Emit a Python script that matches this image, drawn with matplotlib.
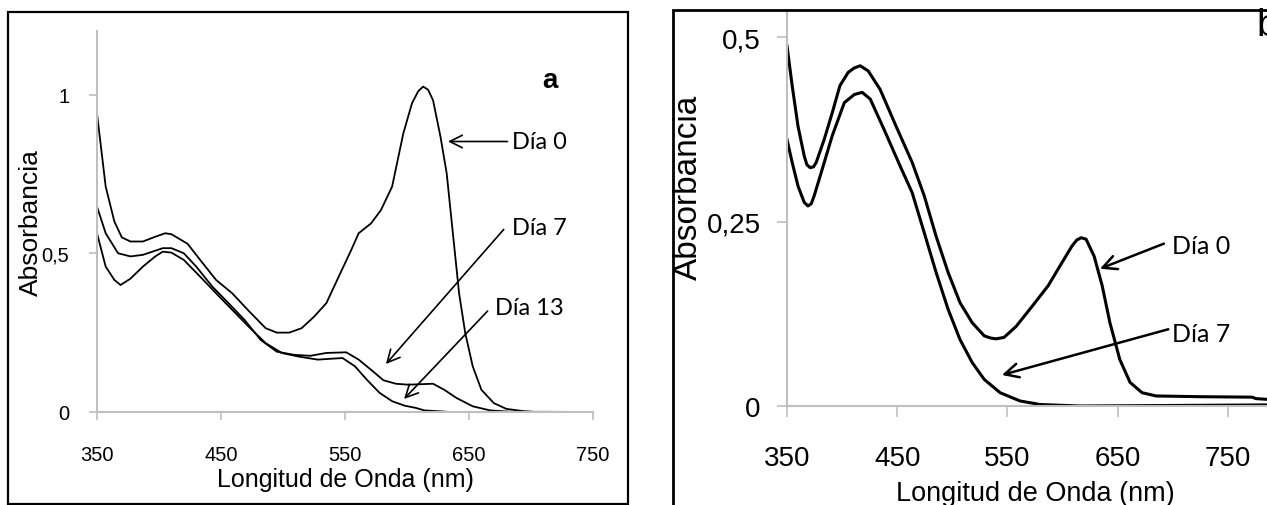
import matplotlib
matplotlib.use('Agg')
import matplotlib.pyplot as plt
from matplotlib.patches import Rectangle

# panel a: wavelength (nm) and absorbance
wl_a0 = [350, 357, 364, 370, 377, 387, 397, 405, 410, 423, 433, 446, 459, 472, 486, 495, 505, 515, 525, 535, 545,
         555, 561, 571, 579, 588, 597, 604, 609, 613, 617, 621, 627, 632, 637, 642, 647, 653, 660, 670, 680, 693,
         703, 750]
abs_a0 = [0.94, 0.71, 0.60, 0.55, 0.537, 0.537, 0.552, 0.563, 0.56, 0.53, 0.48, 0.416, 0.374, 0.32, 0.264, 0.25,
          0.25, 0.264, 0.30, 0.343, 0.427, 0.51, 0.563, 0.594, 0.636, 0.71, 0.877, 0.972, 1.01, 1.025, 1.015, 0.982,
          0.867, 0.752, 0.563, 0.374, 0.248, 0.144, 0.07, 0.028, 0.01, 0.003, 0.0, 0.0]
wl_a7 = [350, 357, 367, 377, 387, 397, 403, 410, 420, 430, 443, 456, 469, 482, 495, 509, 522, 535, 551, 561, 571,
         581, 591, 601, 621, 630, 640, 653, 667, 683, 750]
abs_a7 = [0.647, 0.563, 0.50, 0.49, 0.495, 0.508, 0.516, 0.516, 0.50, 0.458, 0.395, 0.343, 0.29, 0.227, 0.19, 0.18,
          0.177, 0.186, 0.188, 0.165, 0.133, 0.10, 0.089, 0.086, 0.089, 0.07, 0.044, 0.018, 0.005, 0.001, 0.0]
wl_a13 = [350, 357, 364, 369, 377, 387, 397, 403, 410, 420, 433, 446, 459, 472, 486, 499, 512, 528, 548, 558, 568,
          578, 588, 598, 607, 614, 627, 634, 750]
abs_a13 = [0.563, 0.458, 0.416, 0.40, 0.42, 0.458, 0.49, 0.505, 0.502, 0.479, 0.427, 0.374, 0.322, 0.27, 0.217, 0.186,
           0.175, 0.165, 0.17, 0.144, 0.10, 0.06, 0.034, 0.02, 0.013, 0.005, 0.002, 0.0, 0.0]

# panel b
wl_b0 = [350, 354.7, 360, 365.6, 368, 371, 374, 376.5, 383.7, 391, 398, 405.5, 411, 416.4, 423.7, 434.5, 449, 463.6,
         474.5, 485.3, 496.2, 507, 518, 529, 535, 539.8, 547, 558, 572.4, 587, 597.8, 608.7, 613, 617, 621.4, 628.7,
         636, 643, 652, 661.3, 672.2, 685, 725, 772, 775.6, 785.8, 850]
abs_b0 = [0.488, 0.434, 0.379, 0.339, 0.327, 0.323, 0.324, 0.330, 0.361, 0.397, 0.434, 0.452, 0.458, 0.461, 0.454,
          0.429, 0.379, 0.330, 0.285, 0.230, 0.181, 0.140, 0.113, 0.095, 0.092, 0.091, 0.093, 0.108, 0.135, 0.163,
          0.19, 0.217, 0.225, 0.228, 0.226, 0.203, 0.163, 0.113, 0.063, 0.032, 0.018, 0.0136, 0.0126, 0.012, 0.01,
          0.009, 0.009]
wl_b7 = [350, 354.7, 360, 365.6, 369, 372, 374.7, 382, 391, 402, 411, 418.2, 425.5, 438, 452.7, 463.6, 474.5, 485.3,
         496.2, 507, 518, 529, 543.4, 561.5, 579.7, 597.8, 616, 850]
abs_b7 = [0.361, 0.33, 0.298, 0.276, 0.271, 0.274, 0.285, 0.321, 0.366, 0.411, 0.422, 0.425, 0.416, 0.375, 0.325,
          0.289, 0.235, 0.181, 0.131, 0.09, 0.059, 0.036, 0.018, 0.0068, 0.002, 0.001, 0.0, 0.002]

xticks = [350, 450, 550, 650, 750]
yticks_a = [0, 0.5, 1]
yticks_b = [0, 0.25, 0.5]
yticklabels_a = ['0', '0,5', '1']
yticklabels_b = ['0', '0,25', '0,5']

plt.rcParams['font.family'] = ['Liberation Sans', 'DejaVu Sans']
gray = '#bfbfbf'
label_font = ['Lato', 'DejaVu Sans']

fig = plt.figure(figsize=(12.67, 5.06), dpi=100)

# ---- panel a
ax = fig.add_axes([97 / 1267, 93 / 506, 496 / 1267, 381 / 506])
ax.plot(wl_a0, abs_a0, color='black', lw=1.3)
ax.plot(wl_a7, abs_a7, color='black', lw=1.3)
ax.plot(wl_a13, abs_a13, color='black', lw=1.3)
ax.set_xlim(350, 750)
ax.set_ylim(0, 1.2)
ax.set_xticks(xticks)
ax.set_xticklabels([str(t) for t in xticks])
ax.set_yticks(yticks_a)
ax.set_yticklabels(yticklabels_a)
ax.tick_params(axis='x', length=6, width=1.2, color=gray, pad=18, labelsize=14.5)
ax.tick_params(axis='y', length=6, width=1.2, color=gray, pad=14, labelsize=14.5)
for s in ['top', 'right']:
    ax.spines[s].set_visible(False)
for s in ['left', 'bottom']:
    ax.spines[s].set_color(gray)
    ax.spines[s].set_linewidth(1.5)
ax.set_xlabel('Longitud de Onda (nm)', fontsize=18)
ax.xaxis.set_label_coords(0.5, -0.175)
ax.xaxis.label.set_va('center')
ax.set_ylabel('Absorbancia', fontsize=19)
ax.yaxis.set_label_coords(-0.134, 0.50)
ax.yaxis.label.set_va('center')
ax.text(709, 1.047, 'a', fontsize=20, fontweight='bold', ha='left', va='center')

arr_a = dict(arrowstyle='->,head_length=0.9,head_width=0.45', color='black', lw=1.2, shrinkA=0, shrinkB=0)
ax.annotate('', xy=(633, 0.852), xytext=(681, 0.852), arrowprops=arr_a)
ax.text(685, 0.852, 'Día 0', family=label_font, fontsize=17, ha='left', va='center')
ax.annotate('', xy=(583, 0.151), xytext=(678, 0.575), arrowprops=arr_a)
ax.text(685, 0.582, 'Día 7', family=label_font, fontsize=17, ha='left', va='center')
ax.annotate('', xy=(597.6, 0.041), xytext=(665, 0.318), arrowprops=arr_a)
ax.text(671, 0.33, 'Día 13', family=label_font, fontsize=17, ha='left', va='center')

fig.add_artist(Rectangle((8 / 1267, 1 / 506), 620 / 1267, 492 / 506, transform=fig.transFigure,
                         fill=False, edgecolor='black', lw=1.6))

# ---- panel b (cut at the right and bottom edge, as in the source)
bx = fig.add_axes([787 / 1267, 99 / 506, 551 / 1267, 0.536 * 738 / 506])
bx.plot(wl_b0, abs_b0, color='black', lw=2.2)
bx.plot(wl_b7, abs_b7, color='black', lw=2.2)
bx.set_xlim(350, 850)
bx.set_ylim(0, 0.536)
bx.set_xticks(xticks)
bx.set_xticklabels([str(t) for t in xticks])
bx.set_yticks(yticks_b)
bx.set_yticklabels(yticklabels_b)
bx.tick_params(axis='x', length=8, width=1.2, color=gray, pad=20, labelsize=20)
bx.tick_params(axis='y', length=7, width=1.2, color=gray, pad=12, labelsize=20)
for s in ['top', 'right']:
    bx.spines[s].set_visible(False)
for s in ['left', 'bottom']:
    bx.spines[s].set_color(gray)
    bx.spines[s].set_linewidth(1.5)
bx.set_xlabel('Longitud de Onda (nm)', fontsize=19.5)
bx.xaxis.set_label_coords(0.45, -0.22)
bx.xaxis.label.set_va('center')
bx.set_ylabel('Absorbancia', fontsize=24)
bx.yaxis.set_label_coords(-0.178, 0.554)
bx.yaxis.label.set_va('center')
bx.text(1256 / 1267, 1 - 26 / 506, 'b', transform=fig.transFigure, fontsize=28, ha='left', va='center')

arr_b = dict(arrowstyle='->,head_length=1.0,head_width=0.5', color='black', lw=1.8, shrinkA=0, shrinkB=0)
bx.annotate('', xy=(634, 0.186), xytext=(692, 0.22), arrowprops=arr_b)
bx.text(699, 0.217, 'Día 0', family=label_font, fontsize=18, ha='left', va='center')
bx.annotate('', xy=(545, 0.042), xytext=(696, 0.104), arrowprops=arr_b)
bx.text(699, 0.0976, 'Día 7', family=label_font, fontsize=18, ha='left', va='center')

fig.add_artist(Rectangle((673 / 1267, -0.2), 1.0, 1.2 - 11 / 506, transform=fig.transFigure,
                         fill=False, edgecolor='black', lw=2.0))

fig.savefig('out.png', dpi=100)
